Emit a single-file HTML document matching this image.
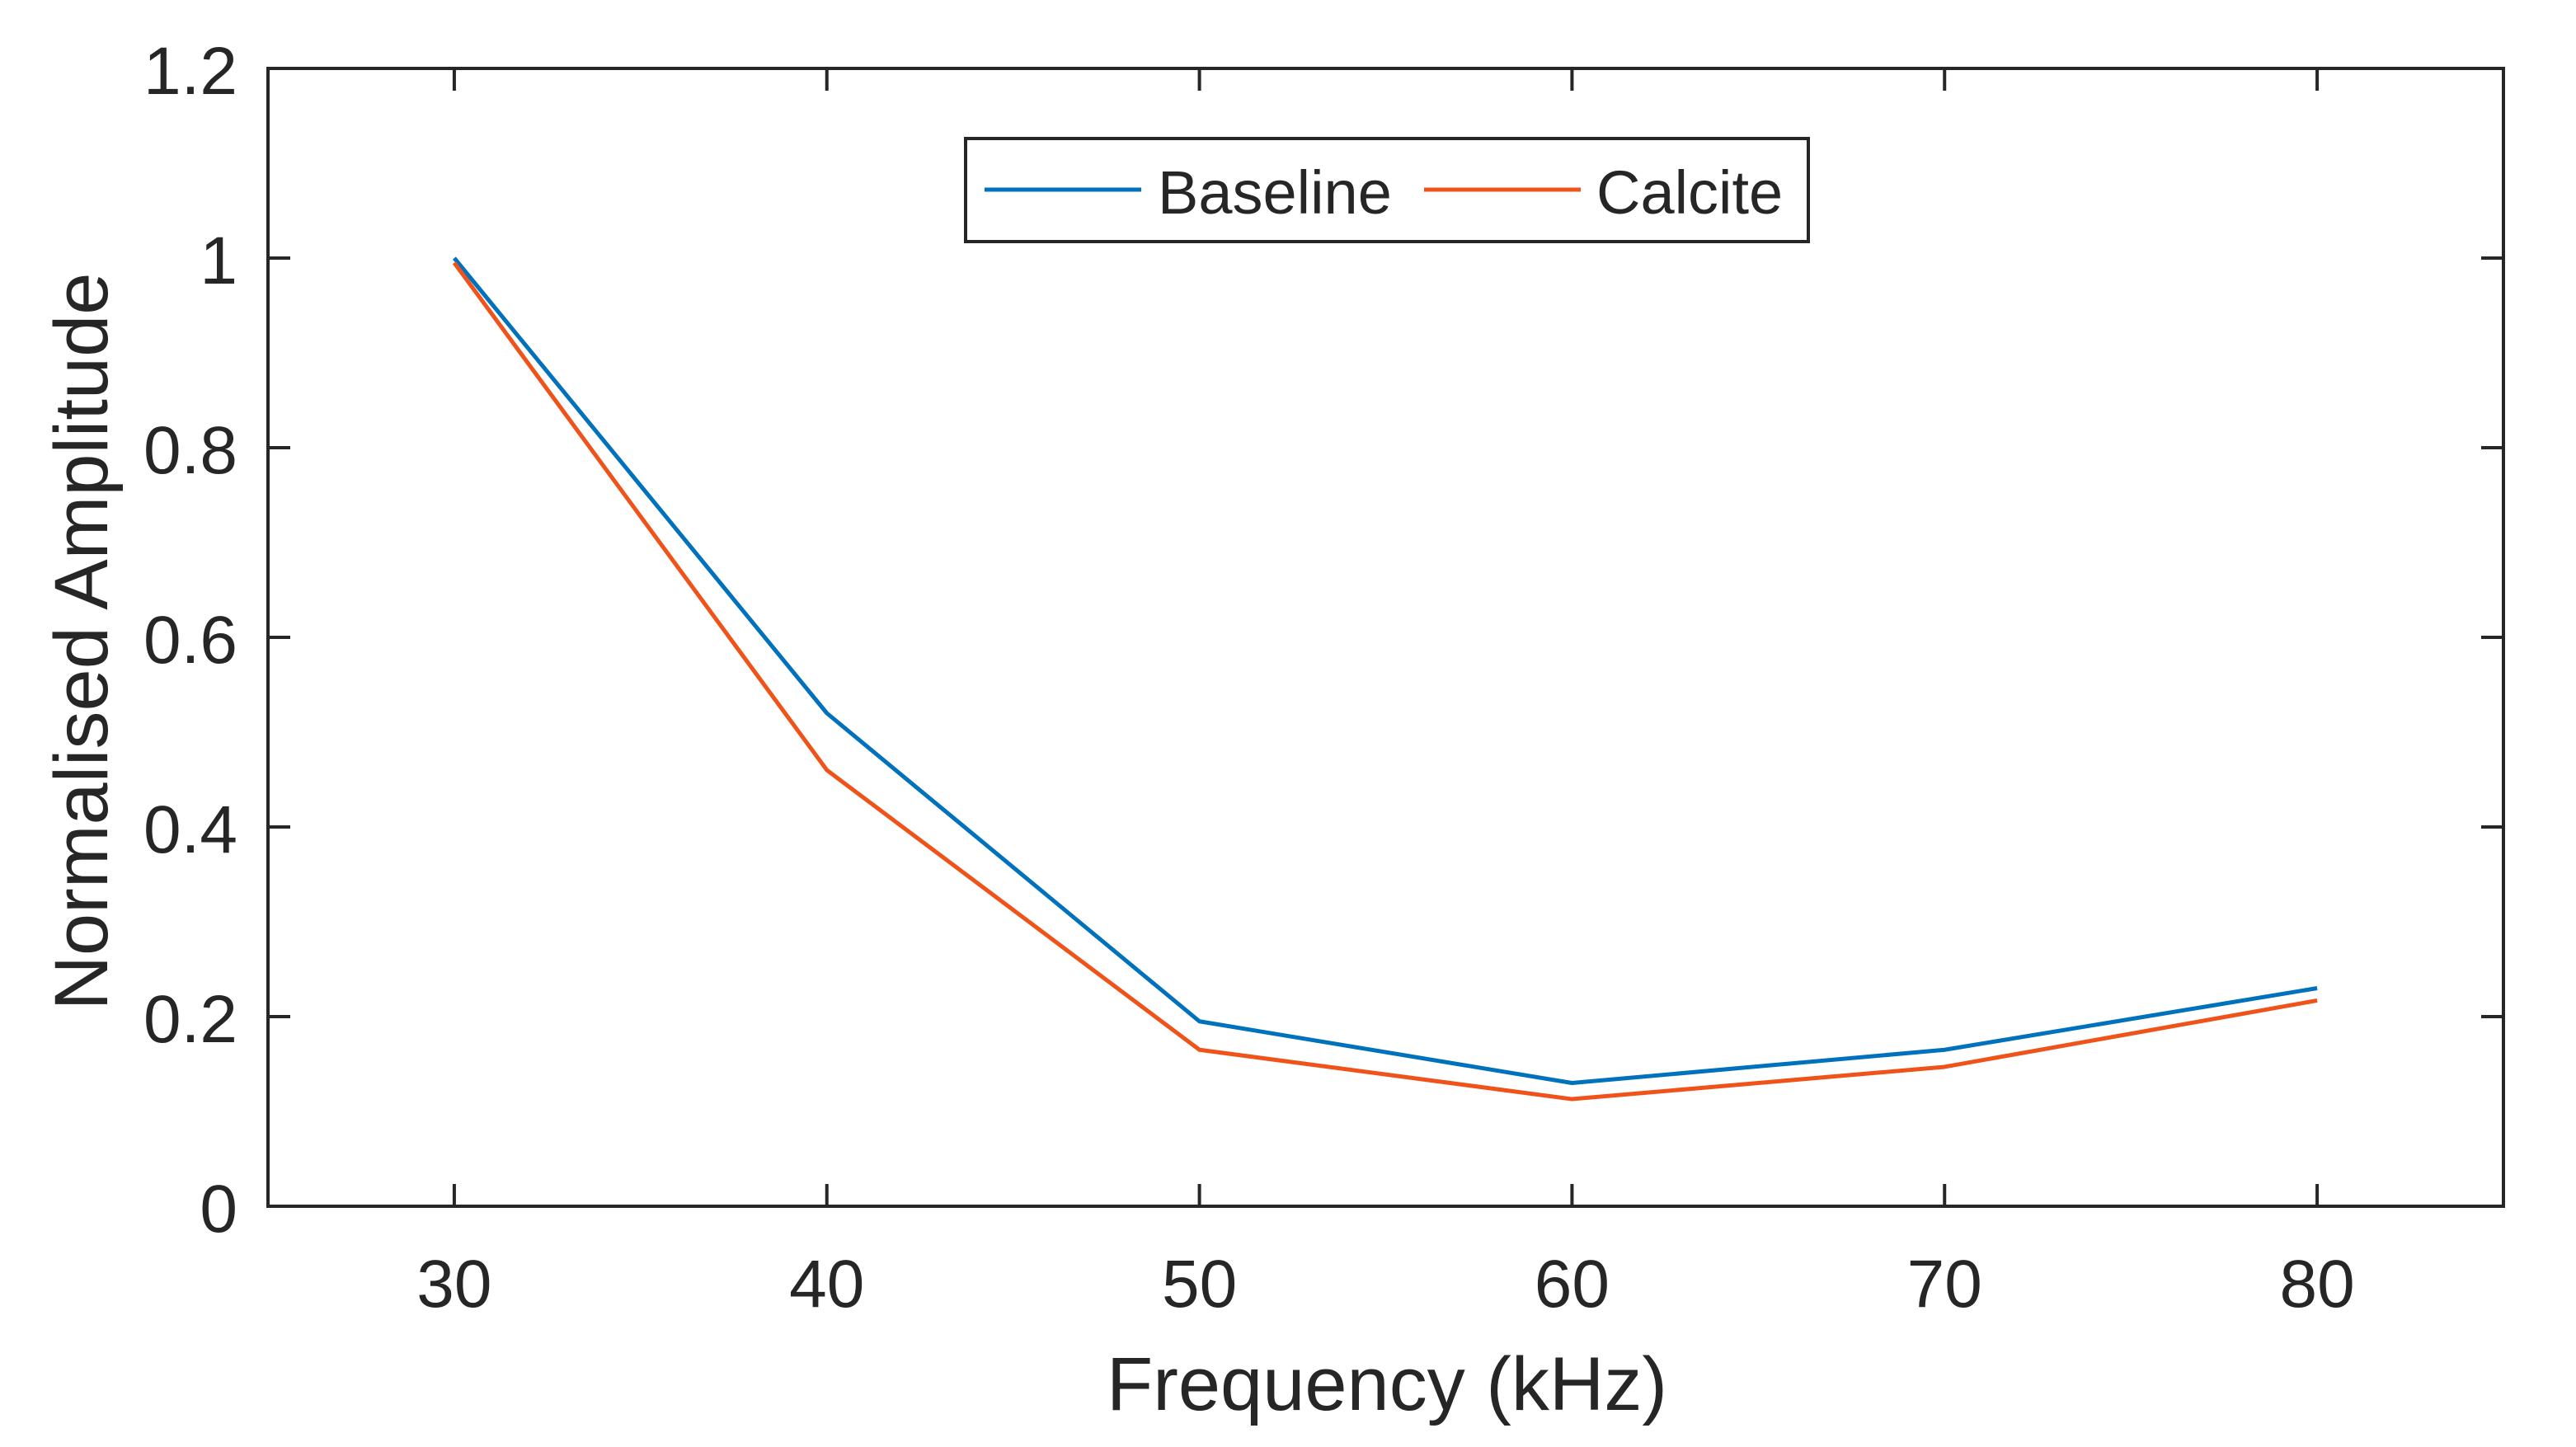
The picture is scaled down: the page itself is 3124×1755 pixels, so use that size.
<!DOCTYPE html>
<html><head><meta charset="utf-8"><style>
html,body{margin:0;padding:0;background:#fff;}
svg text{font-family:"Liberation Sans",Arial,sans-serif;fill:#262626;}
</style></head><body>
<svg id="chart" width="3124" height="1750" viewBox="0 0 3124 1750" xmlns="http://www.w3.org/2000/svg">
<rect width="3124" height="1750" fill="#fff"/>
<g id="axes"></g>
<g id="series"></g>
<g id="legend">
  <rect x="1171" y="168" width="1022" height="125" fill="#fff" stroke="#262626" stroke-width="4"/>
  <line x1="1194" y1="230" x2="1384" y2="230" stroke="#0072BD" stroke-width="5"/>
  <text x="1404" y="259" font-size="74">Baseline</text>
  <line x1="1727" y1="230" x2="1917" y2="230" stroke="#F0531A" stroke-width="5"/>
  <text x="1936" y="259" font-size="74">Calcite</text>
</g>
<text x="1682" y="1710" font-size="92" text-anchor="middle">Frequency (kHz)</text>
<text transform="translate(130,778) rotate(-90)" font-size="92" text-anchor="middle">Normalised Amplitude</text>
</svg>
<script>
const categories = [30, 40, 50, 60, 70, 80];
const baselineValues = [1.0, 0.52, 0.195, 0.13, 0.165, 0.23];
const calciteValues = [0.995, 0.46, 0.165, 0.113, 0.147, 0.217];
const xTickLabels = ["30", "40", "50", "60", "70", "80"];
const yTickValues = [0, 0.2, 0.4, 0.6, 0.8, 1, 1.2];
const yTickLabels = ["0", "0.2", "0.4", "0.6", "0.8", "1", "1.2"];

const L = 325, R = 3036, T = 83, B = 1463;
const xMin = 25, xMax = 85, yMin = 0, yMax = 1.2;
function xs(v){ return L + (v - xMin) / (xMax - xMin) * (R - L); }
function ys(v){ return B - (v - yMin) / (yMax - yMin) * (B - T); }
const NS = "http://www.w3.org/2000/svg";
const axes = document.getElementById('axes');
const series = document.getElementById('series');
function mk(tag, attrs, parent){
  const e = document.createElementNS(NS, tag);
  for (const k in attrs) e.setAttribute(k, attrs[k]);
  parent.appendChild(e); return e;
}
const frame = mk('rect', {x:L, y:T, width:R-L, height:B-T, fill:'none', stroke:'#262626', 'stroke-width':4}, axes);


xTickLabels.forEach((lab, i) => {
  const x = xs(categories[i]);
  mk('line', {x1:x, y1:B, x2:x, y2:B-27, stroke:'#262626', 'stroke-width':4}, axes);
  mk('line', {x1:x, y1:T, x2:x, y2:T+27, stroke:'#262626', 'stroke-width':4}, axes);
  const t = mk('text', {x:x, y:1585, 'font-size':82, 'text-anchor':'middle'}, axes);
  t.textContent = lab;
  
  
});
yTickValues.forEach((v, i) => {
  const y = ys(v);
  mk('line', {x1:L, y1:y, x2:L+27, y2:y, stroke:'#262626', 'stroke-width':4}, axes);
  mk('line', {x1:R, y1:y, x2:R-27, y2:y, stroke:'#262626', 'stroke-width':4}, axes);
  const t = mk('text', {x:288, y:y+31, 'font-size':82, 'text-anchor':'end'}, axes);
  t.textContent = yTickLabels[i];
  
  
});
function drawLine(vals, color, name){
  const pts = vals.map((v, i) => xs(categories[i]) + ',' + ys(v)).join(' ');
  const p = mk('polyline', {points:pts, fill:'none', stroke:color, 'stroke-width':5, 'stroke-linejoin':'round'}, series);
  
  
}
drawLine(baselineValues, '#0072BD', 'baseline-line');
drawLine(calciteValues, '#F0531A', 'calcite-line');
</script>
</body></html>
